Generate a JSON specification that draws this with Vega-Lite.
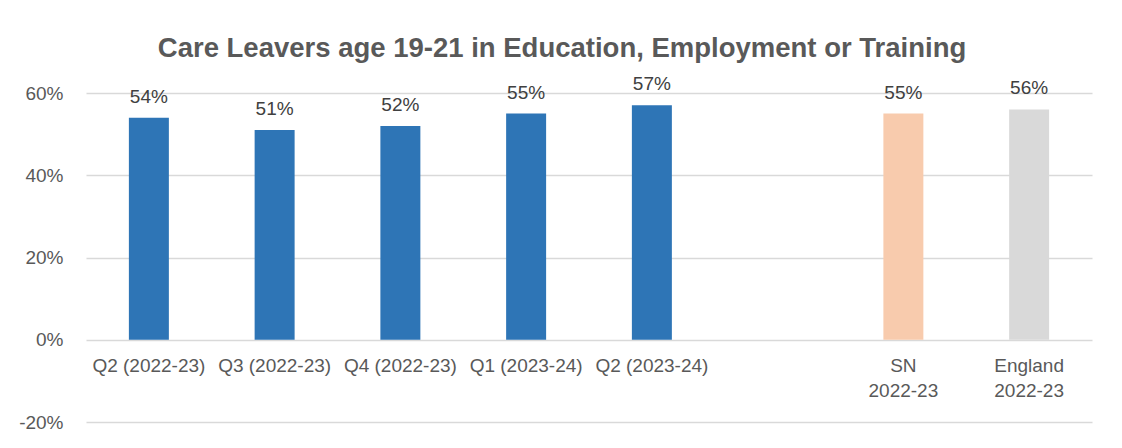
{
  "$schema": "https://vega.github.io/schema/vega-lite/v6.json",
  "autosize": "none",
  "width": 1006,
  "height": 329,
  "padding": {"left": 86, "top": 93, "right": 30, "bottom": 26},
  "background": "white",
  "config": {
    "font": "Liberation Sans",
    "view": {"stroke": null}
  },
  "title": {
    "text": "Care Leavers age 19-21 in Education, Employment or Training",
    "font": "Liberation Sans",
    "fontSize": 27.5,
    "fontWeight": "bold",
    "color": "#595959",
    "anchor": "middle",
    "offset": 13,
    "dx": -27
  },
  "data": {
    "values": [
      {"period": "Q2 (2022-23)", "value": 0.54, "group": "LA"},
      {"period": "Q3 (2022-23)", "value": 0.51, "group": "LA"},
      {"period": "Q4 (2022-23)", "value": 0.52, "group": "LA"},
      {"period": "Q1 (2023-24)", "value": 0.55, "group": "LA"},
      {"period": "Q2 (2023-24)", "value": 0.57, "group": "LA"},
      {"period": "gap", "value": null, "group": "LA"},
      {"period": "SN|2022-23", "value": 0.55, "group": "SN"},
      {"period": "England|2022-23", "value": 0.56, "group": "England"}
    ]
  },
  "encoding": {
    "x": {
      "field": "period",
      "type": "nominal",
      "sort": null,
      "scale": {
        "domain": ["Q2 (2022-23)", "Q3 (2022-23)", "Q4 (2022-23)", "Q1 (2023-24)", "Q2 (2023-24)", "gap", "SN|2022-23", "England|2022-23"],
        "paddingInner": 0.682,
        "paddingOuter": 0.341
      },
      "axis": {
        "title": null,
        "offset": -82,
        "domain": false,
        "ticks": false,
        "labelAngle": 0,
        "labelFontSize": 19,
        "labelColor": "#595959",
        "labelPadding": 16,
        "labelLineHeight": 25,
        "labelBaseline": "top",
        "labelExpr": "datum.value == 'gap' ? '' : split(datum.value, '|')"
      }
    },
    "y": {
      "field": "value",
      "type": "quantitative",
      "scale": {"domain": [-0.2, 0.6], "nice": false},
      "axis": {
        "title": null,
        "values": [-0.2, 0, 0.2, 0.4, 0.6],
        "format": ".0%",
        "labelExpr": "replace(datum.label, '\u2212', '-')",
        "domain": false,
        "ticks": false,
        "labelFontSize": 19,
        "labelColor": "#595959",
        "labelPadding": 23,
        "gridColor": "#D9D9D9",
        "gridWidth": 1.5
      }
    }
  },
  "layer": [
    {
      "mark": {"type": "bar"},
      "encoding": {
        "color": {
          "field": "group",
          "type": "nominal",
          "scale": {"domain": ["LA", "SN", "England"], "range": ["#2E75B6", "#F8CBAD", "#D9D9D9"]},
          "legend": null
        }
      }
    },
    {
      "mark": {"type": "text", "baseline": "alphabetic", "dy": -15, "fontSize": 19, "color": "#404040"},
      "encoding": {
        "text": {"field": "value", "type": "quantitative", "format": ".0%"}
      }
    }
  ]
}
